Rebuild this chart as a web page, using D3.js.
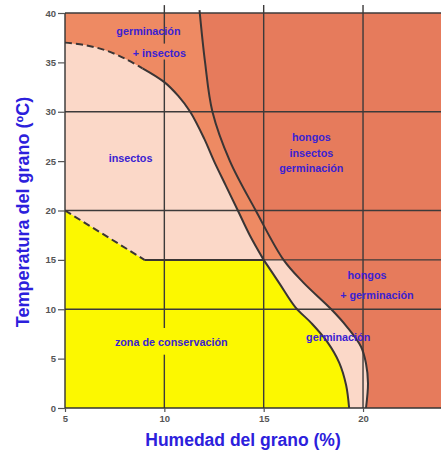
<!DOCTYPE html>
<html>
<head>
<meta charset="utf-8">
<script src="https://cdn.jsdelivr.net/npm/d3@7"></script>
<style>
  html, body { margin: 0; padding: 0; background: #fff; }
  svg { display: block; }
</style>
</head>
<body>
<svg id="chart" width="441" height="452"></svg>
<script>
// ---- data (humedad %, temperatura ºC) ----
const xTicks = [5, 10, 15, 20];
const yTicks = [0, 5, 10, 15, 20, 25, 30, 35, 40];
const hGrid = [10, 20, 30, 40];
// insect limit: dashed part then solid part
const insectosDashed = [[5, 37], [6, 36.75], [7, 36.25], [8, 35.4], [8.9, 34.4]];
const insectosSolid = [[8.9, 34.4], [10, 33], [10.7, 31.6], [11.3, 30], [12, 27.3], [12.5, 25], [13.1, 22.5], [13.7, 20], [14.3, 17.5], [15, 15]];
// fungi limit
const hongos = [[11.77, 40.3], [12.05, 35], [12.42, 30], [13.3, 25], [14.6, 20], [16.0, 15], [17.0, 12.7], [18.4, 10], [19.2, 8.2], [19.9, 6.2], [20.15, 4.5], [20.25, 2.5], [20.15, 0]];
// conservation zone limits
const conservDashed = [[5, 20], [9, 15]];
const conservFlat = [[9, 15], [15, 15]];
const conservCurve = [[15, 15], [15.8, 12.6], [16.6, 10.2], [17.4, 8.6], [18.2, 6.7], [18.8, 4.6], [19.15, 2.3], [19.3, 0]];
const labels = [
  {t: "germinación", x: 9.2, y: 38.2},
  {t: "+ insectos", x: 9.75, y: 35.9},
  {t: "insectos", x: 8.3, y: 25.3},
  {t: "hongos", x: 17.4, y: 27.4},
  {t: "insectos", x: 17.4, y: 25.85},
  {t: "germinación", x: 17.4, y: 24.3},
  {t: "hongos", x: 20.2, y: 13.5},
  {t: "+ germinación", x: 20.7, y: 11.45},
  {t: "germinación", x: 18.75, y: 7.2},
  {t: "zona de conservación", x: 10.35, y: 6.7}
];

const svg = d3.select("#chart");
const x = d3.scaleLinear().domain([5, 24]).range([65, 442.5]);
const y = d3.scaleLinear().domain([0, 40]).range([408, 13]);

const line = d3.line().x(d => x(d[0])).y(d => y(d[1])).curve(d3.curveCatmullRom.alpha(0.5));
const straight = d3.line().x(d => x(d[0])).y(d => y(d[1]));

const cOrange = "#ee8a63", cOrangeDark = "#e67b5c", cPink = "#fbd8c8", cYellow = "#fcf800";

// base orange
svg.append("rect").attr("x", x(5)).attr("y", y(40)).attr("width", x(24) - x(5)).attr("height", y(0) - y(40)).attr("fill", cOrange);

// hongos region (right of fungi limit)
const hongosClip = hongos.map(d => [d[0], Math.min(d[1], 40)]);
const hPath = line(hongosClip) + `L${x(24)},${y(0)}L${x(24)},${y(40)}Z`;
svg.append("path").attr("d", hPath).attr("fill", cOrangeDark);

// pink region (insectos + germinación band)
const hongosBelow15 = hongos.filter(d => d[1] <= 15);
const pinkPath = straight([[5, 0], [5, 37]]) + line(insectosDashed).replace(/^M/, "L") + line(insectosSolid).replace(/^M/, "L")
  + line(hongosBelow15).replace(/^M/, "L") + "Z";
svg.append("path").attr("d", pinkPath).attr("fill", cPink);

// yellow conservation zone
const yellowPath = straight([[5, 0], [5, 20], [9, 15], [15, 15]]) + line(conservCurve).replace(/^M/, "L") + "Z";
svg.append("path").attr("d", yellowPath).attr("fill", cYellow);

// gridlines
const grid = svg.append("g").attr("stroke", "#3c3a3a").attr("stroke-width", 1.4).attr("fill", "none");
hGrid.forEach(v => {
  grid.append("line").attr("x1", x(5)).attr("x2", x(24)).attr("y1", y(v)).attr("y2", y(v));
});
grid.append("line").attr("x1", x(9)).attr("x2", x(24)).attr("y1", y(15)).attr("y2", y(15));
// vertical gridlines
xTicks.slice(1).forEach(v => {
  const segs = v === 10 ? [[40.8, 36.9], [35.3, 8.1], [5.4, 0]] : [[40.8, 0]];
  segs.forEach(s => grid.append("line").attr("x1", x(v)).attr("x2", x(v)).attr("y1", y(s[0])).attr("y2", y(s[1])));
});

// axes
const axisG = svg.append("g");
axisG.append("line").attr("x1", x(5)).attr("x2", x(5)).attr("y1", y(40)).attr("y2", y(0)).attr("stroke", "#333").attr("stroke-width", 1.4);
axisG.append("line").attr("x1", x(5)).attr("x2", x(24)).attr("y1", y(0)).attr("y2", y(0)).attr("stroke", "#333").attr("stroke-width", 1.6);

const yAxis = d3.axisLeft(y).tickValues(yTicks).tickSize(7).tickPadding(2);
const yg = svg.append("g").attr("transform", `translate(${x(5)},0)`).call(yAxis);
const xAxis = d3.axisBottom(x).tickValues(xTicks).tickSize(4).tickPadding(3);
const xg = svg.append("g").attr("transform", `translate(0,${y(0)})`).call(xAxis);
[yg, xg].forEach(g => {
  g.select(".domain").remove();
  g.selectAll(".tick line").attr("stroke", "#555").attr("stroke-width", 1.2);
  g.selectAll(".tick text").attr("fill", "#555").attr("font-family", "Liberation Sans, Arial, sans-serif")
    .attr("font-size", 9.5).attr("font-weight", "bold");
});

// boundary curves
const curves = svg.append("g").attr("fill", "none").attr("stroke", "#3a3535").attr("stroke-width", 2);
curves.append("path").attr("d", line(insectosDashed)).attr("stroke-dasharray", "7,4");
curves.append("path").attr("d", line(insectosSolid));
curves.append("path").attr("d", line(hongos));
curves.append("path").attr("d", straight(conservDashed)).attr("stroke-dasharray", "7,4");
curves.append("path").attr("d", straight(conservFlat));
curves.append("path").attr("d", line(conservCurve));

// region labels
svg.append("g").selectAll("text").data(labels).join("text")
  .attr("x", d => x(d.x)).attr("y", d => y(d.y))
  .attr("text-anchor", "middle").attr("dominant-baseline", "central")
  .attr("font-family", "Liberation Sans, Arial, sans-serif").attr("font-weight", "bold").attr("font-size", 10.8)
  .attr("fill", "#3a22d2").text(d => d.t);

// axis titles
svg.append("text").attr("x", 243).attr("y", 440).attr("text-anchor", "middle").attr("dominant-baseline", "central")
  .attr("font-family", "Liberation Sans, Arial, sans-serif").attr("font-weight", "bold").attr("font-size", 17.5)
  .attr("fill", "#2c20dc").text("Humedad del grano (%)");
svg.append("text").attr("transform", "translate(23,212) rotate(-90)").attr("text-anchor", "middle").attr("dominant-baseline", "central")
  .attr("font-family", "Liberation Sans, Arial, sans-serif").attr("font-weight", "bold").attr("font-size", 18)
  .attr("fill", "#2c20dc").text("Temperatura del grano (ºC)");
</script>
</body>
</html>
